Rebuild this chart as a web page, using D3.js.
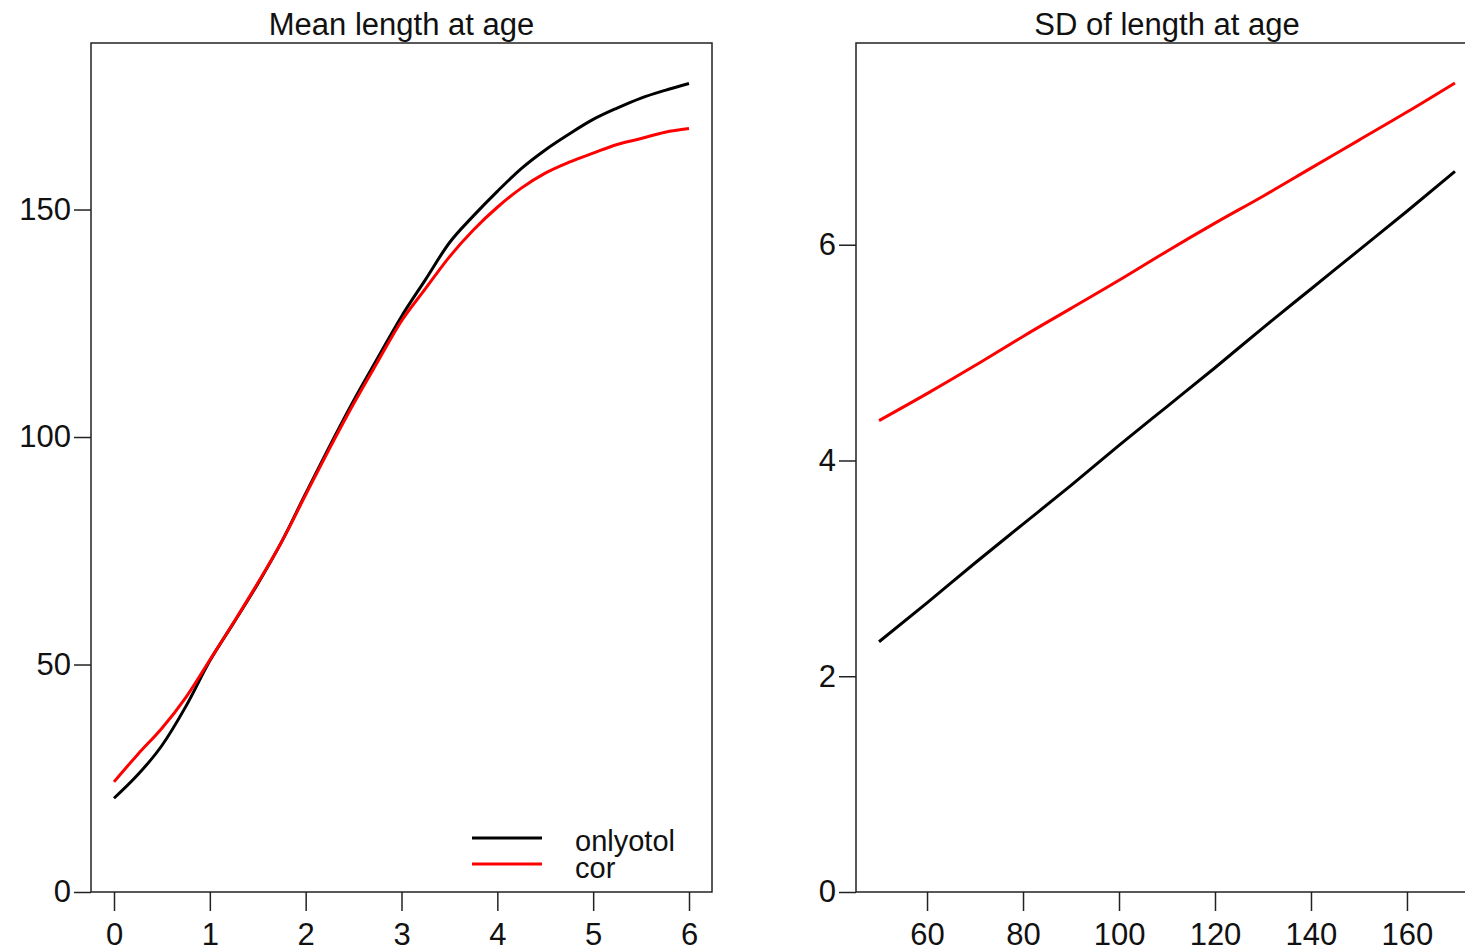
<!DOCTYPE html>
<html>
<head>
<meta charset="utf-8">
<script src="https://cdn.jsdelivr.net/npm/d3@7"></script>
<style>
  body { margin: 0; background: #fff; }
  text { font-family: 'Liberation Sans', Arial, sans-serif; fill: #111; }
</style>
</head>
<body>
<div id="my_dataviz"></div>
<script>
// mean length at age
const ages = [0, 0.25, 0.5, 0.75, 1, 1.25, 1.5, 1.75, 2, 2.25, 2.5, 2.75, 3, 3.25, 3.5, 3.75, 4, 4.25, 4.5, 4.75, 5, 5.25, 5.5, 5.75, 6]
const meanOnlyotol = [20.6, 25.8, 32.2, 40.8, 50.8, 59.2, 67.7, 77.0, 87.6, 98.0, 108.0, 117.3, 126.5, 134.6, 142.7, 148.6, 154.0, 159.0, 163.1, 166.6, 169.8, 172.3, 174.5, 176.2, 177.7]
const meanCor = [24.2, 30.3, 36.0, 42.8, 51.0, 59.3, 67.9, 77.0, 87.3, 97.5, 107.3, 116.5, 125.5, 132.6, 139.6, 145.5, 150.5, 154.7, 158.0, 160.4, 162.4, 164.3, 165.6, 167.0, 167.8]

// sd of length at age
const lengths = [50, 60, 70, 80, 90, 100, 110, 120, 130, 140, 150, 160, 170]
const sdOnlyotol = [2.32, 2.68, 3.05, 3.41, 3.77, 4.14, 4.50, 4.86, 5.23, 5.59, 5.95, 6.31, 6.68]
const sdCor = [4.37, 4.62, 4.88, 5.15, 5.41, 5.67, 5.94, 6.20, 6.45, 6.71, 6.97, 7.23, 7.50]

const meanYTicks = [0, 50, 100, 150]
const meanXTicks = [0, 1, 2, 3, 4, 5, 6]
const sdYTicks = [0, 2, 4, 6]
const sdXTicks = [60, 80, 100, 120, 140, 160]

const seriesNames = ['onlyotol', 'cor']
const seriesColors = ['#000000', '#ff0000']

const width = 1465,
  height = 948

const svg = d3
  .select('#my_dataviz')
  .append('svg')
  .attr('width', width)
  .attr('height', height)

function panel(opts) {
  const x = d3.scaleLinear().domain(opts.xDomain).range([opts.left, opts.right])
  const y = d3.scaleLinear().domain(opts.yDomain).range([892, 43])

  const g = svg.append('g')

  // y axis
  g.append('g')
    .attr('transform', `translate(${opts.left},0)`)
    .call(d3.axisLeft(y).tickValues(opts.yTicks).tickSize(17).tickPadding(3).tickFormat(d3.format('d')))
    .call((a) => a.select('.domain').remove())
    .call((a) => a.selectAll('line').attr('stroke', '#222').attr('stroke-width', 1.5))
    .call((a) => a.selectAll('text').attr('font-size', 31).attr('fill', '#111').style('font-family', "'Liberation Sans', Arial, sans-serif"))

  // x axis
  g.append('g')
    .attr('transform', 'translate(0,892)')
    .call(d3.axisBottom(x).tickValues(opts.xTicks).tickSize(19).tickPadding(12).tickFormat(d3.format('d')))
    .call((a) => a.select('.domain').remove())
    .call((a) => a.selectAll('line').attr('stroke', '#222').attr('stroke-width', 1.5))
    .call((a) => a.selectAll('text').attr('font-size', 31).attr('fill', '#111').style('font-family', "'Liberation Sans', Arial, sans-serif"))

  // lines
  const line = d3
    .line()
    .curve(d3.curveMonotoneX)
    .x((d) => x(d[0]))
    .y((d) => y(d[1]))

  opts.series.forEach((s, i) => {
    g.append('path')
      .datum(opts.xs.map((v, j) => [v, s[j]]))
      .attr('d', line)
      .attr('fill', 'none')
      .attr('stroke', seriesColors[i])
      .attr('stroke-width', 3)
      .attr('stroke-linejoin', 'round')
  })

  // box
  g.append('rect')
    .attr('x', opts.left)
    .attr('y', 43)
    .attr('width', opts.right - opts.left)
    .attr('height', 892 - 43)
    .attr('fill', 'none')
    .attr('stroke', '#222')
    .attr('stroke-width', 1.5)

  // title
  g.append('text')
    .attr('x', (opts.left + opts.right) / 2)
    .attr('y', 35)
    .attr('text-anchor', 'middle')
    .attr('font-size', 31)
    .text(opts.title)

  return { x, y, g }
}

const left = panel({
  left: 91,
  right: 712,
  xDomain: [-0.24, 6.24],
  yDomain: [0, 186.6],
  xTicks: meanXTicks,
  yTicks: meanYTicks,
  xs: ages,
  series: [meanOnlyotol, meanCor],
  title: 'Mean length at age',
})

panel({
  left: 856,
  right: 1478,
  xDomain: [45.2, 174.8],
  yDomain: [0, 7.87],
  xTicks: sdXTicks,
  yTicks: sdYTicks,
  xs: lengths,
  series: [sdOnlyotol, sdCor],
  title: 'SD of length at age',
})

// legend
const legend = left.g.append('g')
seriesNames.forEach((name, i) => {
  const ly = 838 + i * 26
  legend
    .append('line')
    .attr('x1', 472)
    .attr('x2', 542)
    .attr('y1', ly)
    .attr('y2', ly)
    .attr('stroke', seriesColors[i])
    .attr('stroke-width', 3)
  legend
    .append('text')
    .attr('x', 575)
    .attr('y', ly + 13 + i)
    .attr('font-size', 29)
    .text(name)
})
</script>
</body>
</html>
